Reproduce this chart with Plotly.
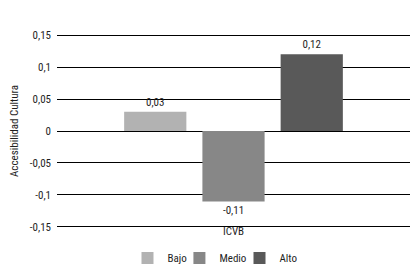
import plotly.graph_objects as go

categories = ["ICVB"]
series_names = ["Bajo", "Medio", "Alto"]
series_values = [[0.03], [-0.11], [0.12]]
value_labels = [["0,03"], ["-0,11"], ["0,12"]]
colors = ["#b2b2b2", "#878787", "#595959"]
tick_vals = [0.15, 0.1, 0.05, 0, -0.05, -0.1, -0.15]
tick_text = ["0,15", "0,1", "0,05", "0", "-0,05", "-0,1", "-0,15"]

FONT = "Roboto Condensed, DejaVu Sans Condensed, sans-serif"
TXT = "#1e1e1e"
legend_ids = ["legend", "legend2", "legend3"]
legend_x = [0.1997, 0.3468, 0.517]

fig = go.Figure()
for name, vals, labs, col, lid in zip(series_names, series_values, value_labels, colors, legend_ids):
    fig.add_trace(go.Bar(
        x=categories, y=vals, name=name, marker=dict(color=col, line=dict(width=0)),
        text=labs, texttemplate="%{text}", textposition="outside",
        textfont=dict(family=FONT, size=11, color=TXT), cliponaxis=False,
        legend=lid,
    ))

leg_common = dict(orientation="h", y=-0.155, yanchor="middle", xanchor="left",
                  font=dict(family=FONT, size=11, color=TXT), itemwidth=30,
                  bgcolor="rgba(0,0,0,0)", borderwidth=0)

fig.update_layout(
    width=416, height=272,
    margin=dict(l=57, r=6, t=34, b=44, autoexpand=False),
    paper_bgcolor="white", plot_bgcolor="white",
    barmode="group", bargap=0.335, bargroupgap=0.205,
    font=dict(family=FONT, size=11, color=TXT),
    showlegend=True,
    legend=dict(x=legend_x[0], **leg_common),
    legend2=dict(x=legend_x[1], **leg_common),
    legend3=dict(x=legend_x[2], **leg_common),
    xaxis=dict(showgrid=False, showline=False, zeroline=False, ticks="", automargin=False,
               tickfont=dict(family=FONT, size=11, color=TXT), ticklabelstandoff=-5),
    yaxis=dict(range=[-0.1516, 0.1516], tickvals=tick_vals, ticktext=tick_text, automargin=False,
               showgrid=True, gridcolor="black", gridwidth=1, zeroline=True,
               zerolinecolor="black", zerolinewidth=1, showline=False, ticks="",
               ticklabelstandoff=5,
               tickfont=dict(family=FONT, size=11, color=TXT),
               title=dict(text="Accesibilidad Cultura", standoff=8,
                          font=dict(family=FONT, size=11, color=TXT))),
)

fig.write_html("out.html", config={"displayModeBar": False},
               post_script="document.body.style.margin='0';document.body.style.overflow='hidden';")
